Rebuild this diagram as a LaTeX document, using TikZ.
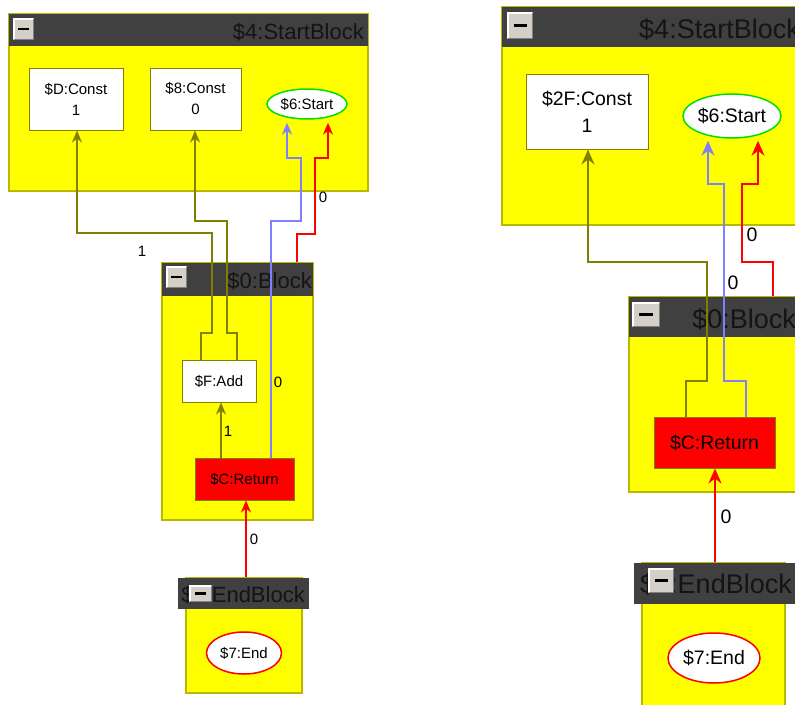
\documentclass[tikz,border=0pt]{standalone}
\usepackage{fontspec}
\setmainfont{Liberation Sans}
\usetikzlibrary{shapes.geometric,arrows.meta,calc}
\definecolor{ol}{HTML}{808000}
\definecolor{bl}{HTML}{8080FF}
\definecolor{rd}{HTML}{FF0000}
\definecolor{gr}{HTML}{00E000}
\definecolor{yl}{HTML}{FFFF00}
\definecolor{yb}{HTML}{B8B800}
\definecolor{barc}{HTML}{404040}
\definecolor{ttx}{HTML}{141414}
\definecolor{btnc}{HTML}{D4D0C8}
\newcommand\fsa{\fontsize{15}{21}\selectfont}
\newcommand\fsb{\fontsize{19.5}{27}\selectfont}
\newcommand\tsa{\fontsize{22}{26}\selectfont}
\newcommand\tsb{\fontsize{27}{32}\selectfont}
\newcommand\mybtn[4]{%
  \fill[btnc] (#1,#2) rectangle (#3,#4);
  \draw[white,line width=1.5pt] (#1+0.75,#4-1) -- (#1+0.75,#2+0.75) -- (#3-1,#2+0.75);
  \draw[gray,line width=1.5pt] (#1+1,#4-0.75) -- (#3-0.75,#4-0.75) -- (#3-0.75,#2+1);
  \draw[black,line width=2.5pt] ({#1+(#3-#1)*0.25},{(#2+#4)/2}) -- ({#1+(#3-#1)*0.75},{(#2+#4)/2});
}
\tikzset{
  blk/.style={fill=yl, draw=yb, line width=1.2pt, inner sep=0pt},
  barst/.style={fill=barc, inner sep=0pt, anchor=north west},
  ttl/.style={text=ttx, inner sep=0pt, anchor=base east},
  cbox/.style={draw=ol, fill=white, line width=1pt, align=center, inner sep=0pt},
  rbox/.style={draw=ol, fill=rd, line width=1pt, inner sep=0pt},
  ell/.style={ellipse, fill=white, line width=1.5pt, inner sep=0pt},
  olc/.style={draw=ol, line width=1.3pt},
  blc/.style={draw=bl, line width=1.3pt},
  rdc/.style={draw=rd, line width=1.3pt},
  thick2/.style={line width=1.6pt},
  tipa/.style={-{Stealth[length=12pt,width=10pt,inset=4pt]}},
  tipb/.style={-{Stealth[length=15pt,width=13pt,inset=5pt]}},
  lbl/.style={inner sep=0pt, text=black}
}
\begin{document}
\begin{tikzpicture}[x=1pt,y=-1pt]
\useasboundingbox (0,0) rectangle (795,704);
\clip (0,0) rectangle (795,704);

% ---------- left: StartBlock ----------
\node[blk, minimum width=359, minimum height=177] (sbA) at (188.5,102.5) {};
\node[barst, minimum width=359, minimum height=32] (sbAbar) at (9,14) {};
\node[ttl, font=\tsa] (sbAt) at (364,39) {\$4:StartBlock};
\mybtn{13}{18}{34}{40}
\node[cbox, font=\fsa, minimum width=94, minimum height=62] (cD) at (76,99) {\$D:Const\\1};
\node[cbox, font=\fsa, minimum width=91, minimum height=62] (c8) at (195.5,99) {\$8:Const\\0};
\node[ell, draw=gr, minimum width=80, minimum height=30, font=\fsa] (stA) at (307,104) {\$6:Start};

% ---------- left: Block ----------
\node[blk, minimum width=151, minimum height=257] (bA) at (237.5,391.5) {};
\node[barst, minimum width=151, minimum height=33] (bAbar) at (162,263) {};
\node[ttl, font=\tsa] (bAt) at (312,288) {\$0:Block};
\mybtn{166}{266}{187}{288}
\node[cbox, font=\fsa, minimum width=74, minimum height=42] (add) at (219,381) {\$F:Add};
\node[rbox, font=\fsa, minimum width=99, minimum height=42] (ret) at (244.5,479) {\$C:Return};

% ---------- left: EndBlock ----------
\node[blk, minimum width=116, minimum height=115] (eA) at (244,635.5) {};
\node[barst, minimum width=131, minimum height=31] (eAbar) at (178,578) {};
\node[ttl, font=\tsa] (eAt) at (305,602) {\$7:EndBlock};
\mybtn{189}{585}{212}{602}
\node[ell, draw=rd, minimum width=75, minimum height=42, font=\fsa] (enA) at (244,653) {\$7:End};

% ---------- right: StartBlock ----------
\node[blk, minimum width=308, minimum height=218] (sbB) at (656,116) {};
\node[barst, minimum width=308, minimum height=40] (sbBbar) at (502,7) {};
\node[ttl, font=\tsb] (sbBt) at (800,38) {\$4:StartBlock};
\mybtn{507}{12}{533}{39}
\node[cbox, font=\fsb, minimum width=122, minimum height=75] (c2F) at (587,111.5) {\$2F:Const\\1};
\node[ell, draw=gr, minimum width=98, minimum height=44, font=\fsb] (stB) at (732,116) {\$6:Start};

% ---------- right: Block ----------
\node[blk, minimum width=181, minimum height=195] (bB) at (719.5,394.5) {};
\node[barst, minimum width=181, minimum height=40] (bBbar) at (629,297) {};
\node[ttl, font=\tsb] (bBt) at (796,328) {\$0:Block};
\mybtn{632}{302}{660}{327}
\node[rbox, font=\fsb, minimum width=121, minimum height=51] (ret2) at (714.5,442.5) {\$C:Return};

% ---------- right: EndBlock ----------
\node[blk, minimum width=143, minimum height=157] (eB) at (713.5,641.5) {};
\node[barst, minimum width=176, minimum height=41] (eBbar) at (634,563) {};
\node[ttl, font=\tsb] (eBt) at (792,593) {\$7:EndBlock};
\mybtn{648}{568}{674}{593}
\node[ell, draw=rd, minimum width=92, minimum height=50, font=\fsb] (enB) at (714,658) {\$7:End};

% ---------- left connectors ----------
\draw[olc,tipa] (add.north -| 201,0) -- (201,333) -- (212,333) -- (212,233) -- (77,233) -- (cD.south -| 77,0);
\draw[olc,tipa] (add.north -| 237,0) -- (237,333) -- (227,333) -- (227,221) -- (195,221) -- (c8.south -| 195,0);
\draw[olc,tipa] (ret.north -| 221,0) -- (add.south -| 221,0);
\draw[blc,tipa,shorten >=3pt] (ret.north -| 271,0) -- (271,221) -- (301,221) -- (301,158) -- (287,158) -- (stA.south -| 287,0);
\draw[rdc,tipa,shorten >=3pt] (bA.north -| 297,0) -- (297,234) -- (315,234) -- (315,158) -- (328,158) -- (stA.south -| 328,0);
\draw[rdc,tipa] (eA.north -| 246,0) -- (ret.south -| 246,0);

\node[lbl, font=\fsa] (l1) at (142,251) {1};
\node[lbl, font=\fsa] (l2) at (323,197) {0};
\node[lbl, font=\fsa] (l3) at (278,382) {0};
\node[lbl, font=\fsa] (l4) at (228,431) {1};
\node[lbl, font=\fsa] (l5) at (254,539) {0};

% ---------- right connectors ----------
\draw[olc,thick2,tipb] (ret2.north -| 686,0) -- (686,381) -- (707,381) -- (707,262) -- (588,262) -- (c2F.south -| 588,0);
\draw[blc,thick2,tipb,shorten >=2pt] (ret2.north -| 746,0) -- (746,381) -- (724,381) -- (724,184) -- (708,184) -- (stB.south -| 708,0);
\draw[rdc,thick2,tipb,shorten >=2pt] (bB.north -| 773,0) -- (773,262) -- (742,262) -- (742,184) -- (758,184) -- (stB.south -| 758,0);
\draw[rdc,thick2,tipb] (eB.north -| 715,0) -- (ret2.south -| 715,0);

\node[lbl, font=\fsb] (l6) at (752,235) {0};
\node[lbl, font=\fsb] (l7) at (733,283) {0};
\node[lbl, font=\fsb] (l8) at (726,517) {0};
\end{tikzpicture}
\end{document}
